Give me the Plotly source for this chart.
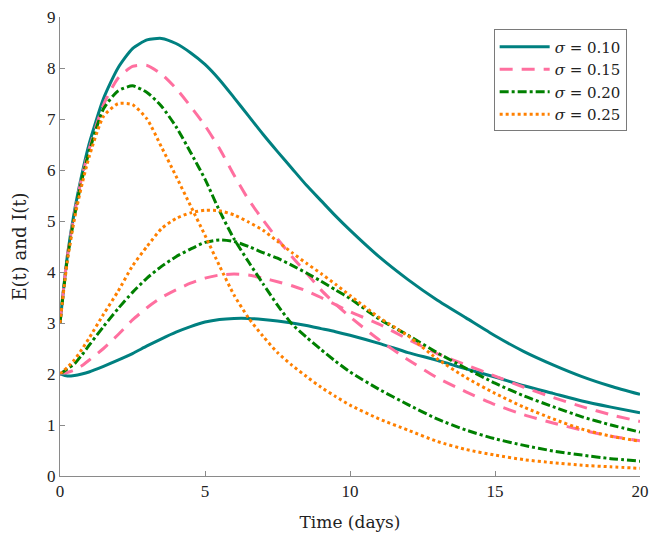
import plotly.graph_objects as go

# time grid (days)
t = [0, 0.25, 0.5, 0.75, 1, 1.5, 2, 2.5, 3, 3.5, 4, 4.5, 5, 5.5, 6, 6.5, 7, 7.5,
     8, 8.5, 9, 9.5, 10, 11, 12, 13, 14, 15, 16, 17, 18, 19, 20]

# sigma = 0.10
E_010 = [3.0, 4.3, 5.2, 5.9, 6.5, 7.4, 8.0, 8.38, 8.55, 8.58, 8.48, 8.3, 8.07, 7.77, 7.42,
         7.06, 6.7, 6.36, 6.03, 5.7, 5.4, 5.1, 4.82, 4.3, 3.85, 3.45, 3.1, 2.75, 2.44, 2.18,
         1.95, 1.76, 1.6]
I_010 = [2.0, 1.96, 1.97, 2.0, 2.04, 2.15, 2.27, 2.4, 2.55, 2.69, 2.82, 2.93, 3.02, 3.07,
         3.09, 3.09, 3.07, 3.04, 3.0, 2.95, 2.89, 2.83, 2.76, 2.6, 2.42, 2.27, 2.1, 1.94, 1.77,
         1.62, 1.47, 1.35, 1.24]
# sigma = 0.15
E_015 = [3.0, 4.3, 5.15, 5.85, 6.4, 7.28, 7.8, 8.03, 8.05, 7.88, 7.6, 7.25, 6.87, 6.42, 5.9,
         5.42, 5.02, 4.65, 4.3, 3.98, 3.65, 3.37, 3.12, 2.67, 2.28, 1.93, 1.65, 1.4, 1.2, 1.04,
         0.9, 0.78, 0.69]
I_015 = [2.0, 2.03, 2.08, 2.16, 2.27, 2.5, 2.77, 3.06, 3.3, 3.5, 3.65, 3.78, 3.88, 3.94, 3.96,
         3.94, 3.88, 3.81, 3.73, 3.63, 3.5, 3.36, 3.22, 2.98, 2.68, 2.4, 2.18, 1.96, 1.74, 1.54,
         1.36, 1.2, 1.07]
# sigma = 0.20
E_020 = [3.0, 4.25, 5.1, 5.8, 6.35, 7.2, 7.55, 7.65, 7.52, 7.25, 6.85, 6.35, 5.82, 5.2, 4.65,
         4.2, 3.77, 3.35, 2.98, 2.72, 2.48, 2.25, 2.04, 1.7, 1.4, 1.12, 0.9, 0.73, 0.6, 0.49,
         0.41, 0.34, 0.29]
I_020 = [2.0, 2.1, 2.2, 2.37, 2.56, 2.93, 3.28, 3.6, 3.88, 4.11, 4.3, 4.45, 4.58, 4.63, 4.6,
         4.5, 4.38, 4.27, 4.13, 3.98, 3.82, 3.65, 3.48, 3.08, 2.76, 2.42, 2.11, 1.82, 1.57, 1.36,
         1.16, 1.0, 0.86]
# sigma = 0.25
E_025 = [3.0, 4.2, 5.05, 5.7, 6.25, 7.05, 7.3, 7.28, 7.0, 6.45, 5.88, 5.3, 4.72, 4.12, 3.55,
         3.1, 2.74, 2.42, 2.17, 1.95, 1.74, 1.56, 1.39, 1.12, 0.9, 0.68, 0.52, 0.41, 0.32, 0.26,
         0.21, 0.18, 0.15]
I_025 = [2.0, 2.13, 2.28, 2.48, 2.7, 3.17, 3.62, 4.12, 4.5, 4.85, 5.05, 5.16, 5.21, 5.2, 5.12,
         4.98, 4.82, 4.6, 4.38, 4.17, 3.97, 3.76, 3.54, 3.11, 2.75, 2.3, 1.93, 1.62, 1.35, 1.12,
         0.92, 0.78, 0.68]

labels = ["<i>σ</i> = 0.10", "<i>σ</i> = 0.15", "<i>σ</i> = 0.20", "<i>σ</i> = 0.25"]
E_series = [E_010, E_015, E_020, E_025]
I_series = [I_010, I_015, I_020, I_025]
colors = ["#008080", "#ff6f9f", "#008000", "#ff8000"]
dashes = ["solid", "13px,9px", "9px,3px,3px,3px", "dot"]

x_ticks = [0, 5, 10, 15, 20]
y_ticks = [0, 1, 2, 3, 4, 5, 6, 7, 8, 9]

fig = go.Figure()
for lab, E, I, c, d in zip(labels, E_series, I_series, colors, dashes):
    fig.add_trace(go.Scatter(
        x=t + [None] + t, y=E + [None] + I, mode="lines", name=lab,
        line=dict(color=c, width=3, dash=d, shape="spline", smoothing=0.6),
        connectgaps=False,
    ))

axis_common = dict(
    showgrid=False, zeroline=False, showline=True, linecolor="#8a8a8a", linewidth=1,
    ticks="inside", ticklen=5, tickcolor="#8a8a8a", mirror=False, automargin=False,
    tickfont=dict(family="Liberation Serif", size=17, color="#222222"),
)

fig.update_layout(
    width=654, height=535,
    margin=dict(l=60, r=14, t=17, b=59),
    paper_bgcolor="white", plot_bgcolor="white",
    showlegend=True,
    legend=dict(
        x=0.977, y=0.973, xanchor="right", yanchor="top",
        bgcolor="white", bordercolor="#7a7a7a", borderwidth=1,
        font=dict(family="DejaVu Serif", size=15, color="#222222"),
        tracegroupgap=0, itemwidth=50,
    ),
    xaxis=dict(range=[0, 20], tickvals=x_ticks,
               title=dict(text="Time (days)",
                          font=dict(family="DejaVu Serif", size=17, color="#222222")),
               **axis_common),
    yaxis=dict(range=[0, 9], tickvals=y_ticks,
               title=dict(text="E(t) and I(t)",
                          font=dict(family="DejaVu Serif", size=18, color="#222222")),
               **axis_common),
)

fig.write_html("out.html")
